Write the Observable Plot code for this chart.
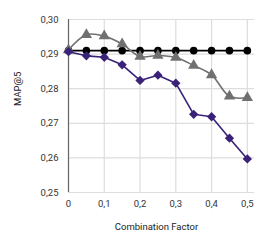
<!DOCTYPE html>
<html><head><meta charset="utf-8">
<script src="https://cdn.jsdelivr.net/npm/d3@7"></script>
<script src="https://cdn.jsdelivr.net/npm/@observablehq/plot@0.6"></script>
<style>body{margin:0;background:#fff;font-family:Roboto,sans-serif}</style>
</head><body><div id="chart"></div>
<script>
const factors = [0, 0.05, 0.1, 0.15, 0.2, 0.25, 0.3, 0.35, 0.4, 0.45, 0.5];
const baseline = [0.291, 0.291, 0.291, 0.291, 0.291, 0.291, 0.291, 0.291, 0.291, 0.291, 0.291];
const grayValues = [0.2912, 0.2956, 0.2952, 0.2929, 0.2893, 0.2896, 0.2890, 0.2867, 0.2840, 0.2778, 0.2774];
const purpleValues = [0.2907, 0.2895, 0.2891, 0.2869, 0.2824, 0.2839, 0.2816, 0.2726, 0.2719, 0.2657, 0.2597];
const yTicks = [0.25, 0.26, 0.27, 0.28, 0.29, 0.30];
const xTicks = [0, 0.1, 0.2, 0.3, 0.4, 0.5];
const xTitle = "Combination Factor";
const yTitle = "MAP@5";

const mk = (vals, s) => factors.map((f, i) => ({x: f, y: vals[i], s}));
const black = mk(baseline, "black"), gray = mk(grayValues, "gray"), purple = mk(purpleValues, "purple");
const comma = (d, n) => d3.format("." + n + "f")(d).replace(".", ",");

const plot = Plot.plot({
  width: 266, height: 247,
  marginLeft: 68, marginRight: 12, marginTop: 19, marginBottom: 55,
  style: {fontFamily: "Roboto, sans-serif", fontSize: "9.5px", color: "#333"},
  x: {domain: [0, 0.52], ticks: xTicks, tickFormat: d => d === 0 ? "0" : comma(d, 1), tickSize: 0, tickPadding: 8, label: null},
  y: {domain: [0.25, 0.30], ticks: yTicks, tickFormat: d => comma(d, 2), tickSize: 0, tickPadding: 10, label: null},
  marks: [
    Plot.gridX(xTicks, {stroke: "#ddd", strokeOpacity: 1, strokeWidth: 1.2}),
    Plot.gridY(yTicks, {stroke: "#ddd", strokeOpacity: 1, strokeWidth: 1.2, x1: 0, x2: 0.52}),
    Plot.ruleX([0], {stroke: "#666", strokeWidth: 1.2}),
    Plot.line(black, {x: "x", y: "y", stroke: "#000", strokeWidth: 1.6}),
    Plot.dot(black, {x: "x", y: "y", fill: "#000", r: 3.8, symbol: "circle"}),
    Plot.line(gray, {x: "x", y: "y", stroke: "#707070", strokeWidth: 1.6, curve: "catmull-rom"}),
    Plot.dot(gray, {x: "x", y: "y", fill: "#707070", r: 4.2, symbol: "triangle"}),
    Plot.line(purple, {x: "x", y: "y", stroke: "#3a2278", strokeWidth: 1.6}),
    Plot.dot(purple, {x: "x", y: "y", fill: "#3a2278", r: 4.2, symbol: "diamond2"}),
    Plot.text([xTitle], {frameAnchor: "bottom", dy: 37, dx: -5, fill: "#222", fontSize: 9.5}),
    Plot.text([yTitle], {frameAnchor: "left", dx: -51, dy: 0, rotate: -90, fill: "#222", fontSize: 9.5})
  ]
});
document.getElementById("chart").appendChild(plot);
</script></body></html>
